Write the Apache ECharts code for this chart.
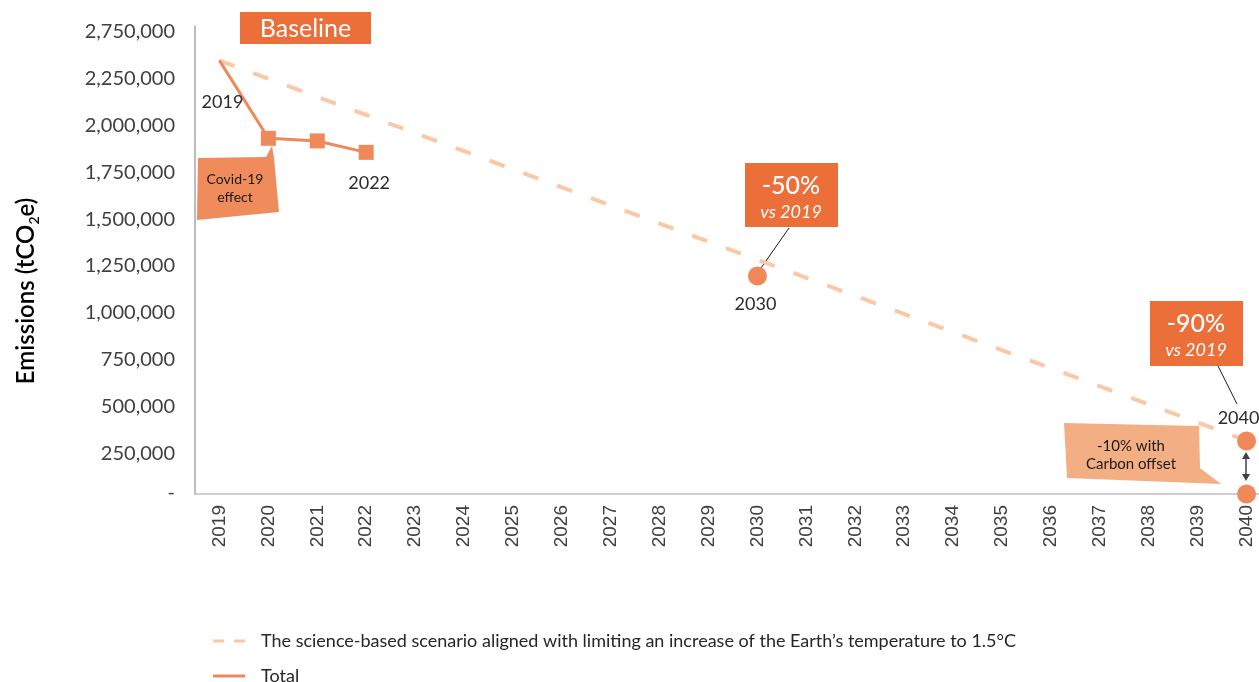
<!DOCTYPE html>
<html>
<head>
<meta charset="utf-8">
<script src="https://cdn.jsdelivr.net/npm/echarts@6/dist/echarts.min.js"></script>
<style>
  html, body { margin: 0; padding: 0; background: #fff; }
  #chart { width: 1259px; height: 682px; }
</style>
</head>
<body>
<div id="chart"></div>
<script>
// categories
const years = ['2019', '2020', '2021', '2022', '2023', '2024', '2025', '2026', '2027', '2028', '2029',
  '2030', '2031', '2032', '2033', '2034', '2035', '2036', '2037', '2038', '2039', '2040'];

// total emissions (tCO2e)
const totalYears = ['2019', '2020', '2021', '2022'];
const totalValues = [2315000, 1900000, 1886000, 1825000];

// science-based 1.5°C scenario
const scenarioYears = ['2019', '2040'];
const scenarioValues = [2315000, 285000];

// targets: -50% in 2030, -90% in 2040, then carbon offset to zero
const targetYears = ['2030', '2040', '2040'];
const targetValues = [1165000, 283000, 0];

// y tick labels as printed on the chart
const yTickLabels = ['-', '250,000', '500,000', '750,000', '1,000,000', '1,250,000',
  '1,500,000', '1,750,000', '2,000,000', '2,250,000', '2,750,000'];

const SCENARIO_NAME = 'The science-based scenario aligned with limiting an increase of the Earth\u2019s temperature to 1.5\u00b0C';
const MARK = '#F0895A';
const BOX = '#EC6E38';
const DASH = '#FBC8A6';
const FONT = 'Lato';

const labelStyle = { show: true, position: 'inside', color: '#2b2b2b', fontSize: 18, fontFamily: FONT };

const option = {
  animation: false,
  grid: { left: 195, width: 1076, top: 26, bottom: 188, outerBoundsMode: 'none' },
  legend: {
    orient: 'vertical',
    left: 208,
    top: 626,
    height: 80,
    itemWidth: 32,
    itemHeight: 3,
    itemGap: 15,
    textStyle: { fontSize: 18, fontFamily: FONT, color: '#262626', lineHeight: 20, padding: [0, 0, 0, 11] },
    data: [
      { name: SCENARIO_NAME, icon: 'path://M0,0h11v3h-11z M21,0h11v3h-11z', itemStyle: { color: DASH } },
      { name: 'Total', icon: 'path://M0,0h32v3h-32z', itemStyle: { color: MARK } }
    ]
  },
  xAxis: {
    type: 'category',
    data: years,
    boundaryGap: true,
    axisLine: { lineStyle: { color: '#BFBFBF', width: 1.5 } },
    axisTick: { show: false },
    axisLabel: { rotate: 90, margin: 11, fontSize: 19, fontFamily: 'Liberation Sans', color: '#404040' }
  },
  yAxis: {
    type: 'value',
    min: 0,
    max: 2500000,
    interval: 250000,
    splitLine: { show: false },
    axisLine: { show: true, lineStyle: { color: '#A6A6A6', width: 1.5 } },
    axisTick: { show: false },
    axisLabel: {
      margin: 20,
      fontSize: 20,
      fontFamily: FONT,
      color: '#404040',
      padding: [12, 0, 0, 0],
      formatter: (v, i) => i === 0 ? '{d|-}' : yTickLabels[i],
      rich: { d: { fontSize: 20, fontFamily: FONT, color: '#404040', padding: [0, 0, 14, 0] } }
    }
  },
  series: [
    {
      name: SCENARIO_NAME,
      type: 'line',
      symbol: 'none',
      z: 1,
      itemStyle: { color: DASH },
      lineStyle: { color: DASH, width: 4, type: [16, 20] },
      data: scenarioYears.map((y, i) => [y, scenarioValues[i]])
    },
    {
      name: 'Total',
      type: 'line',
      symbol: 'rect',
      symbolSize: 15,
      z: 3,
      itemStyle: { color: MARK },
      lineStyle: { color: MARK, width: 3 },
      data: totalYears.map((y, i) => {
        const d = { value: [y, totalValues[i]] };
        if (i === 0) {
          d.symbolSize = 1;
          d.label = Object.assign({}, labelStyle, { offset: [3, 42], formatter: y });
        }
        if (i === totalYears.length - 1) {
          d.label = Object.assign({}, labelStyle, { offset: [3, 31], formatter: y });
        }
        return d;
      })
    },
    {
      name: 'Targets',
      type: 'scatter',
      symbol: 'circle',
      symbolSize: 19,
      z: 4,
      clip: false,
      itemStyle: { color: MARK, opacity: 1 },
      data: targetYears.map((y, i) => {
        const d = { value: [y, targetValues[i]] };
        if (i === 0) d.label = Object.assign({}, labelStyle, { offset: [-2, 28], formatter: y });
        if (i === 1) d.label = Object.assign({}, labelStyle, { offset: [-8, -23], formatter: y });
        return d;
      })
    }
  ],
  graphic: [
    // y axis title
    {
      type: 'text', x: 26, y: 291, rotation: Math.PI / 2,
      style: {
        text: '{a|Emissions (tCO}{b|2}{a|e)}',
        align: 'center', verticalAlign: 'middle',
        rich: {
          a: { fontSize: 24, fontWeight: 600, fontFamily: FONT, fill: '#000', lineHeight: 30 },
          b: { fontSize: 14, fontWeight: 600, fontFamily: FONT, fill: '#000', lineHeight: 14, verticalAlign: 'bottom' }
        }
      }
    },
    // Baseline
    { type: 'rect', shape: { x: 240, y: 12, width: 131, height: 32 }, style: { fill: BOX } },
    {
      type: 'text', x: 305.5, y: 29,
      style: { text: 'Baseline', fontSize: 25, fontFamily: FONT, fill: '#fff', align: 'center', verticalAlign: 'middle' }
    },
    // Covid-19 callout
    {
      type: 'polygon',
      shape: { points: [[198, 158], [266, 157], [272, 146], [274, 158], [279, 212], [197, 220]] },
      style: { fill: '#F08C5C' }
    },
    {
      type: 'text', x: 235, y: 188,
      style: { text: 'Covid-19\neffect', fontSize: 14, lineHeight: 18, fontFamily: FONT, fill: '#1a1a1a', align: 'center', verticalAlign: 'middle' }
    },
    // -50% callout
    { type: 'line', shape: { x1: 789, y1: 228, x2: 761, y2: 268 }, style: { stroke: '#1a1a1a', lineWidth: 1 } },
    { type: 'rect', shape: { x: 745, y: 163, width: 93, height: 64 }, style: { fill: BOX } },
    {
      type: 'text', x: 791, y: 186,
      style: { text: '-50%', fontSize: 25, fontWeight: 500, fontFamily: FONT, fill: '#fff', align: 'center', verticalAlign: 'middle' }
    },
    {
      type: 'text', x: 791, y: 212,
      style: { text: 'vs 2019', fontSize: 18, fontStyle: 'italic', fontFamily: FONT, fill: '#fff', align: 'center', verticalAlign: 'middle' }
    },
    // -90% callout
    { type: 'line', shape: { x1: 1218, y1: 366, x2: 1237, y2: 404 }, style: { stroke: '#1a1a1a', lineWidth: 1 } },
    { type: 'rect', shape: { x: 1150, y: 301, width: 93, height: 65 }, style: { fill: BOX } },
    {
      type: 'text', x: 1196, y: 324,
      style: { text: '-90%', fontSize: 25, fontWeight: 500, fontFamily: FONT, fill: '#fff', align: 'center', verticalAlign: 'middle' }
    },
    {
      type: 'text', x: 1196, y: 350,
      style: { text: 'vs 2019', fontSize: 18, fontStyle: 'italic', fontFamily: FONT, fill: '#fff', align: 'center', verticalAlign: 'middle' }
    },
    // carbon offset callout
    {
      type: 'polygon',
      shape: { points: [[1064, 423], [1199, 426], [1200, 468], [1221, 484], [1067, 478]] },
      style: { fill: '#F4AE84' }
    },
    {
      type: 'text', x: 1131, y: 455,
      style: { text: '-10% with\nCarbon offset', fontSize: 15, lineHeight: 18, fontFamily: FONT, fill: '#1a1a1a', align: 'center', verticalAlign: 'middle' }
    },
    // double arrow between 2040 points
    { type: 'line', shape: { x1: 1246, y1: 457, x2: 1246, y2: 476 }, style: { stroke: '#404040', lineWidth: 1.5 } },
    { type: 'polygon', shape: { points: [[1246, 452], [1242, 459], [1250, 459]] }, style: { fill: '#404040' } },
    { type: 'polygon', shape: { points: [[1246, 481], [1242, 474], [1250, 474]] }, style: { fill: '#404040' } }
  ]
};

const myChart = echarts.init(document.getElementById('chart'));
myChart.setOption(option);
</script>
</body>
</html>
